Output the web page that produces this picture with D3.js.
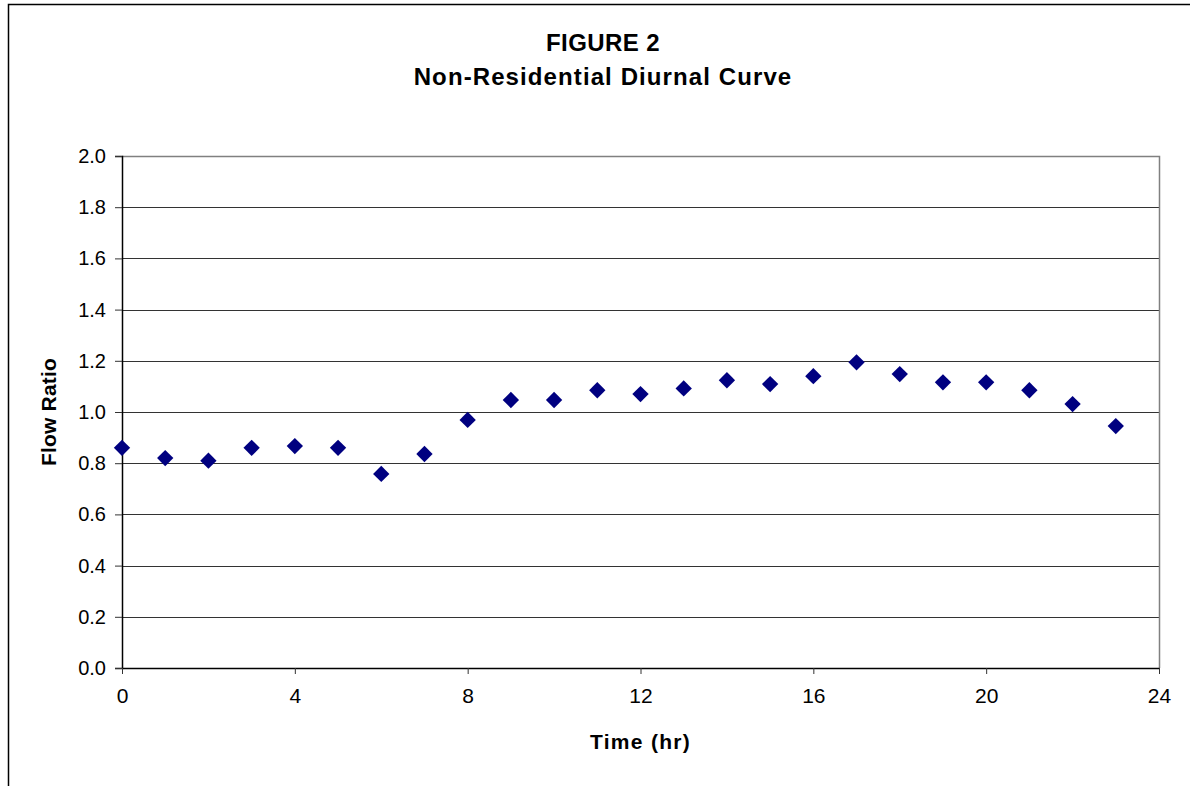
<!DOCTYPE html>
<html lang="en">
<head>
    <meta charset="UTF-8">
    <title>Figure 2</title>
    <style>
      body { margin: 0; background: #fff; }
      text { font-family: Arial, "Liberation Sans", sans-serif; fill: #000; }
    </style>
</head>
<body>
  <svg width="1190" height="786"></svg>
  <script src="https://d3js.org/d3.v7.min.js"></script>
  <script>
    // hourly flow ratio
    const hours = [0, 1, 2, 3, 4, 5, 6, 7, 8, 9, 10, 11, 12, 13, 14, 15, 16, 17, 18, 19, 20, 21, 22, 23];
    const flowRatio = [0.86, 0.82, 0.81, 0.86, 0.867, 0.86, 0.758, 0.836, 0.969, 1.047, 1.047, 1.085, 1.07, 1.092,
                       1.124, 1.109, 1.14, 1.194, 1.148, 1.116, 1.116, 1.085, 1.031, 0.945];
    const xTicks = [0, 4, 8, 12, 16, 20, 24];
    const yTicks = [0, 0.2, 0.4, 0.6, 0.8, 1.0, 1.2, 1.4, 1.6, 1.8, 2.0];
    const titleLines = ['FIGURE 2', 'Non-Residential Diurnal Curve'];

    const svg = d3.select('svg');
    const margin = {top: 156, right: 31, bottom: 118, left: 122};
    const width = 1190 - margin.left - margin.right;
    const height = 786 - margin.top - margin.bottom;

    // outer chart frame (runs off the right / bottom edge)
    svg.append('rect')
      .attr('x', 8.5).attr('y', 4.5)
      .attr('width', 1300).attr('height', 900)
      .attr('fill', 'none').attr('stroke', '#000').attr('stroke-width', 1.5);

    const g = svg.append('g').attr('transform', `translate(${margin.left},${margin.top})`);

    const x = d3.scaleLinear().domain([0, 24]).range([0, width]);
    const y = d3.scaleLinear().domain([0, 2]).range([height, 0]);

    // gridlines
    g.append('g').selectAll('line')
      .data(yTicks.filter(d => d > 0 && d < 2))
      .join('line')
      .attr('x1', 0).attr('x2', width)
      .attr('y1', d => Math.round(y(d)) + 0.5).attr('y2', d => Math.round(y(d)) + 0.5)
      .attr('stroke', '#333').attr('stroke-width', 1);

    // top / right border of the plot area
    g.append('path')
      .attr('d', `M0,0.5H${width + 0.5}V${height}`)
      .attr('fill', 'none').attr('stroke', '#808080').attr('stroke-width', 1.5);

    const yAxis = g.append('g')
      .call(d3.axisLeft(y).tickValues(yTicks).tickFormat(d3.format('.1f')).tickSize(7).tickPadding(9));
    yAxis.selectAll('text').style('font-size', '20px');

    const xAxis = g.append('g')
      .attr('transform', `translate(0,${height})`)
      .call(d3.axisBottom(x).tickValues(xTicks).tickSize(6).tickSizeOuter(0).tickPadding(14));
    xAxis.selectAll('text').style('font-size', '21px');

    g.selectAll('.domain').attr('stroke', '#000').attr('stroke-width', 1.5);
    g.selectAll('.tick line').attr('stroke', '#333');

    // markers
    const diamond = d3.symbol().type(d3.symbolDiamond2).size(170);
    g.append('g').selectAll('path')
      .data(hours.map((h, i) => ({h, v: flowRatio[i]})))
      .join('path')
      .attr('transform', d => `translate(${x(d.h)},${y(d.v)})`)
      .attr('d', diamond)
      .attr('fill', '#000080');

    // titles
    svg.append('g').selectAll('text')
      .data(titleLines)
      .join('text')
      .attr('x', 603).attr('y', (d, i) => 51 + i * 34)
      .attr('text-anchor', 'middle')
      .style('font-size', '24px').style('font-weight', 'bold')
      .style('letter-spacing', (d, i) => i ? '1.1px' : '0.4px')
      .text(d => d);

    svg.append('text')
      .attr('x', margin.left + width / 2).attr('y', 749)
      .attr('text-anchor', 'middle')
      .style('font-size', '21px').style('font-weight', 'bold').style('letter-spacing', '1.3px')
      .text('Time (hr)');

    svg.append('text')
      .attr('transform', 'translate(56,412) rotate(-90)')
      .attr('text-anchor', 'middle')
      .style('font-size', '21px').style('font-weight', 'bold').style('letter-spacing', '0.2px')
      .text('Flow Ratio');
  </script>
</body>
</html>
